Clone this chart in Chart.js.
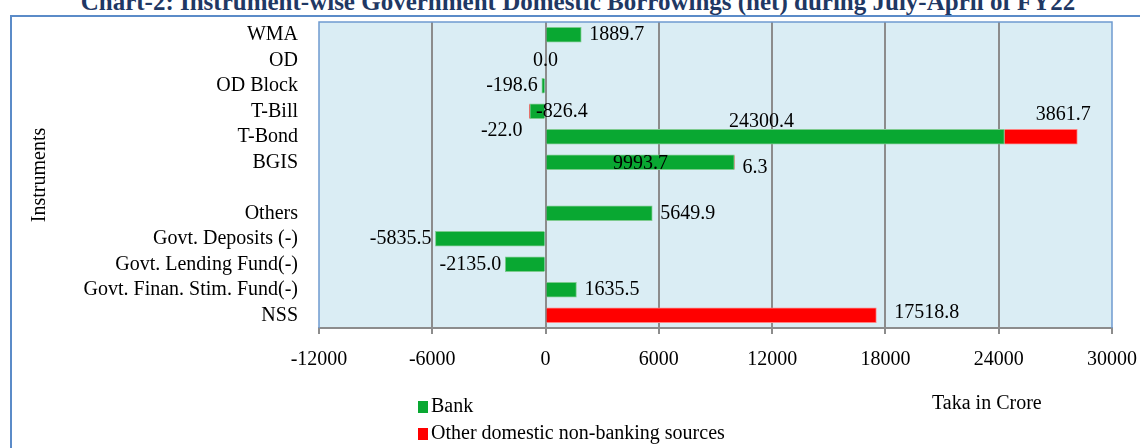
<!DOCTYPE html>
<html>
<head>
<meta charset="utf-8">
<script src="https://cdn.jsdelivr.net/npm/chart.js@4/dist/chart.umd.min.js"></script>
<style>
  body { margin: 0; background: #fff; }
  #wrap { position: relative; width: 1140px; height: 448px; overflow: hidden; font-family: "Liberation Serif", serif; }
  #frame { position: absolute; left: 10px; top: 15px; width: 1140px; height: 450px; border: 2px solid #5B8BC8; box-sizing: border-box; }
  #title { position: absolute; left: 8px; width: 1140px; top: -11px; text-align: center; font-weight: bold; font-size: 25px; color: #1F3864; line-height: 25px; white-space: nowrap; }
  canvas { position: absolute; left: 0; top: 0; }
  .leg { position: absolute; left: 418px; font-size: 20px; line-height: 20px; white-space: nowrap; }
  .leg i { display: inline-block; width: 10px; height: 12px; margin-right: 3px; vertical-align: -1px; }
  #unit { position: absolute; left: 932px; top: 392px; font-size: 20px; line-height: 20px; }
</style>
</head>
<body>
<div id="wrap">
  <div id="frame"></div>
  <div id="title">Chart-2: Instrument-wise Government Domestic Borrowings (net) during July-April of FY22</div>
  <canvas id="myChart" width="1140" height="448"></canvas>
  <div class="leg" style="top:395px"><i style="background:#09A832"></i>Bank</div>
  <div class="leg" style="top:422px"><i style="background:#FF0000"></i>Other domestic non-banking sources</div>
  <div id="unit">Taka in Crore</div>
</div>
<script>
var instruments = ["WMA", "OD", "OD Block", "T-Bill", "T-Bond", "BGIS", "", "Others",
  "Govt. Deposits (-)", "Govt. Lending Fund(-)", "Govt. Finan. Stim. Fund(-)", "NSS"];
var bankValues = [1889.7, 0.0, -198.6, -826.4, 24300.4, 9993.7, null, 5649.9, -5835.5, -2135.0, 1635.5, null];
var nonBankValues = [null, null, null, -22.0, 3861.7, 6.3, null, null, null, null, null, 17518.8];
var xMin = -12000;
var xMax = 30000;
var xStep = 6000;

// where each data label sits relative to its bar
var bankSpots = ["end", "zero", "end", "over", "above", "center", "", "end", "end", "end", "end", ""];
var otherSpots = ["", "", "", "below", "aboveEnd", "endLow", "", "", "", "", "", "endHigh"];

var FONT = "Liberation Serif";

var plotBack = {
  id: "plotBack",
  beforeDraw: function (chart) {
    var a = chart.chartArea, ctx = chart.ctx;
    ctx.save();
    ctx.fillStyle = "#DAEDF4";
    ctx.fillRect(a.left, a.top, a.right - a.left, a.bottom - a.top);
    ctx.restore();
  },
  afterDatasetsDraw: function (chart) {
    var a = chart.chartArea, ctx = chart.ctx;
    ctx.save();
    ctx.strokeStyle = "#6F9AD0";
    ctx.lineWidth = 1.5;
    ctx.beginPath();
    ctx.moveTo(a.left, a.bottom);
    ctx.lineTo(a.left, a.top);
    ctx.lineTo(a.right, a.top);
    ctx.lineTo(a.right, a.bottom);
    ctx.stroke();
    ctx.restore();
  }
};

var barLabels = {
  id: "barLabels",
  afterDatasetsDraw: function (chart) {
    var ctx = chart.ctx;
    ctx.save();
    ctx.font = "20px '" + FONT + "'";
    ctx.fillStyle = "#000";
    ctx.textBaseline = "middle";
    chart.data.datasets.forEach(function (ds, di) {
      var spots = di === 0 ? bankSpots : otherSpots;
      chart.getDatasetMeta(di).data.forEach(function (bar, i) {
        var v = ds.data[i];
        if (v === null || v === undefined) return;
        var txt = v.toFixed(1);
        var x = bar.x, y = bar.y, base = bar.base;
        var spot = spots[i];
        if (spot === "end") {
          if (v >= 0) { ctx.textAlign = "left"; ctx.fillText(txt, x + 8, y); }
          else { ctx.textAlign = "right"; ctx.fillText(txt, x - 4, y); }
        } else if (spot === "zero") {
          ctx.textAlign = "center"; ctx.fillText(txt, x, y);
        } else if (spot === "over") {
          ctx.textAlign = "left"; ctx.fillText(txt, x + 6, y);
        } else if (spot === "below") {
          ctx.textAlign = "right"; ctx.fillText(txt, x - 7, y + 19);
        } else if (spot === "above") {
          ctx.textAlign = "center"; ctx.fillText(txt, (x + base) / 2 - 14, y - 15);
        } else if (spot === "aboveEnd") {
          ctx.textAlign = "center"; ctx.fillText(txt, x - 14, y - 22);
        } else if (spot === "center") {
          ctx.textAlign = "center"; ctx.fillText(txt, (x + base) / 2, y + 1);
        } else if (spot === "endLow") {
          ctx.textAlign = "left"; ctx.fillText(txt, x + 8, y + 5);
        } else if (spot === "endHigh") {
          ctx.textAlign = "left"; ctx.fillText(txt, x + 18, y - 3);
        }
      });
    });
    ctx.restore();
  }
};

new Chart("myChart", {
  type: "bar",
  data: {
    labels: instruments,
    datasets: [
      {
        label: "Bank",
        data: bankValues,
        backgroundColor: "#09A832",
        borderColor: "#7CCB8E",
        borderWidth: 1,
        barThickness: 15
      },
      {
        label: "Other domestic non-banking sources",
        data: nonBankValues,
        backgroundColor: "#FF0000",
        borderColor: "#FF8080",
        borderWidth: 1,
        barThickness: 15
      }
    ]
  },
  options: {
    indexAxis: "y",
    responsive: false,
    animation: false,
    layout: { padding: { left: 0, top: 22, right: 28, bottom: 0 } },
    plugins: {
      legend: { display: false },
      tooltip: { enabled: false },
      title: { display: false }
    },
    scales: {
      x: {
        stacked: true,
        min: xMin,
        max: xMax,
        afterBuildTicks: function (scale) {
          var t = [];
          for (var v = xMin; v <= xMax; v += xStep) t.push({ value: v });
          scale.ticks = t;
        },
        afterFit: function (scale) {
          scale.height = 120;
          scale.paddingLeft = 0;
          scale.paddingRight = 0;
        },
        grid: {
          color: function (c) {
            return (c.tick && (c.tick.value === xMin || c.tick.value === xMax)) ? "rgba(0,0,0,0)" : "#8C8C8C";
          },
          lineWidth: 2,
          tickColor: "#8C8C8C",
          tickLength: 6,
          drawOnChartArea: true
        },
        border: { color: "#8C8C8C", width: 2 },
        ticks: {
          font: { family: FONT, size: 20 },
          color: "#000",
          padding: 14,
          maxRotation: 0,
          callback: function (v) { return String(v); }
        }
      },
      y: {
        stacked: true,
        afterFit: function (scale) {
          scale.width = 319;
          scale.paddingTop = 0;
          scale.paddingBottom = 0;
        },
        grid: { display: false, drawTicks: false },
        border: { display: false },
        ticks: {
          font: { family: FONT, size: 20 },
          color: "#000",
          padding: 21,
          autoSkip: false
        },
        title: {
          display: true,
          text: "Instruments",
          font: { family: FONT, size: 20 },
          color: "#000",
          padding: { top: 28, bottom: 0 }
        }
      }
    }
  },
  plugins: [plotBack, barLabels]
});
</script>
</body>
</html>
